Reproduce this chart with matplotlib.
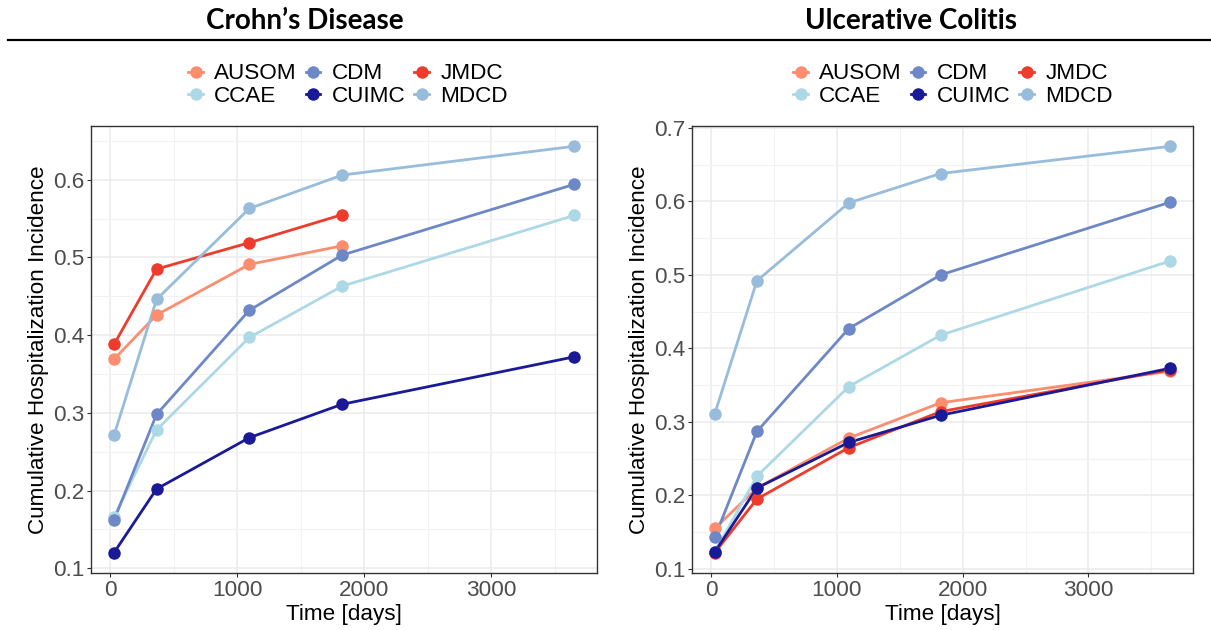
import matplotlib
matplotlib.use("Agg")
import matplotlib.pyplot as plt
from matplotlib.lines import Line2D
from matplotlib.ticker import MultipleLocator

# ---- data ----
days = [30, 365, 1095, 1825, 3650]
sources = ["AUSOM", "CCAE", "CDM", "CUIMC", "JMDC", "MDCD"]
colors = {"AUSOM": "#FC8D6F", "CCAE": "#ADD8E6", "CDM": "#6E88C7",
          "CUIMC": "#1A1A96", "JMDC": "#EE3B2B", "MDCD": "#97BCDC"}

cd_ausom = [0.369, 0.426, 0.491, 0.515]
cd_ccae = [0.166, 0.278, 0.397, 0.463, 0.554]
cd_cdm = [0.162, 0.298, 0.432, 0.503, 0.594]
cd_cuimc = [0.120, 0.202, 0.268, 0.311, 0.372]
cd_jmdc = [0.388, 0.485, 0.519, 0.555]
cd_mdcd = [0.271, 0.446, 0.563, 0.606, 0.643]

uc_ausom = [0.155, 0.210, 0.278, 0.326, 0.369]
uc_ccae = [0.123, 0.226, 0.348, 0.418, 0.519]
uc_cdm = [0.143, 0.287, 0.427, 0.500, 0.599]
uc_cuimc = [0.123, 0.210, 0.272, 0.309, 0.373]
uc_jmdc = [0.122, 0.195, 0.265, 0.314, 0.371]
uc_mdcd = [0.311, 0.492, 0.598, 0.638, 0.675]

panels = [
    ("Crohn\u2019s Disease", {"AUSOM": cd_ausom, "CCAE": cd_ccae, "CDM": cd_cdm,
                              "CUIMC": cd_cuimc, "JMDC": cd_jmdc, "MDCD": cd_mdcd}),
    ("Ulcerative Colitis", {"AUSOM": uc_ausom, "CCAE": uc_ccae, "CDM": uc_cdm,
                            "CUIMC": uc_cuimc, "JMDC": uc_jmdc, "MDCD": uc_mdcd}),
]

plt.rcParams["font.family"] = ["Liberation Sans", "DejaVu Sans"]
FS = 16.2
W, H = 1211, 630
fig = plt.figure(figsize=(W / 100, H / 100), dpi=100)

axes_px = [(91, 597), (692, 1193)]
top_px, bot_px = 126, 573
title_x = [305, 911]
legend_x = [348, 953]
draw_order = ["AUSOM", "CCAE", "CDM", "JMDC", "MDCD", "CUIMC"]

for i, (title, data) in enumerate(panels):
    x0, x1 = axes_px[i]
    ax = fig.add_axes([x0 / W, 1 - bot_px / H, (x1 - x0) / W, (bot_px - top_px) / H])
    for k, s in enumerate(draw_order):
        y = data[s]
        ax.plot(days[:len(y)], y, color=colors[s], lw=2.0, zorder=2 + k * 0.01,
                solid_capstyle="butt")
    for k, s in enumerate(draw_order):
        y = data[s]
        ax.plot(days[:len(y)], y, "o", color=colors[s], ms=9, mec="none",
                zorder=3 + k * 0.01)

    ax.xaxis.set_major_locator(MultipleLocator(1000))
    ax.xaxis.set_minor_locator(MultipleLocator(500))
    ax.yaxis.set_major_locator(MultipleLocator(0.1))
    ax.yaxis.set_minor_locator(MultipleLocator(0.05))
    ax.yaxis.set_major_formatter(matplotlib.ticker.FormatStrFormatter("%.1f"))
    ax.grid(which="major", color="#EBEBEB", lw=1.1, zorder=0)
    ax.grid(which="minor", color="#F2F2F2", lw=0.8, zorder=0)
    ax.set_axisbelow(True)
    ax.tick_params(which="major", length=3, width=0.8, color="#333333",
                   labelsize=FS, labelcolor="#4D4D4D", pad=2)
    ax.tick_params(which="minor", length=0)
    for sp in ax.spines.values():
        sp.set_color("#333333")
        sp.set_linewidth(1.0)
    ax.set_xlabel("Time [days]", fontsize=FS, color="black", labelpad=2)
    ax.set_ylabel("Cumulative Hospitalization Incidence", fontsize=FS,
                  color="black", labelpad=3)

    fig.text(title_x[i] / W, 1 - 21 / H, title, ha="center", va="center",
             fontsize=20, fontweight="bold", family=["Lato", "DejaVu Sans"])

    handles = [Line2D([], [], color=colors[s], lw=2.0, marker="o", ms=9, mec="none")
               for s in sources]
    fig.legend(handles, sources, loc="center",
               bbox_to_anchor=(legend_x[i] / W, 1 - 85 / H), ncol=3,
               frameon=False, fontsize=FS, handlelength=0.65, handletextpad=0.5,
               columnspacing=0.4, labelspacing=0.05, borderpad=0)

fig.add_artist(Line2D([8 / W, 1.0], [1 - 40 / H, 1 - 40 / H], color="black", lw=1.6))

fig.savefig("out.png", dpi=100)
